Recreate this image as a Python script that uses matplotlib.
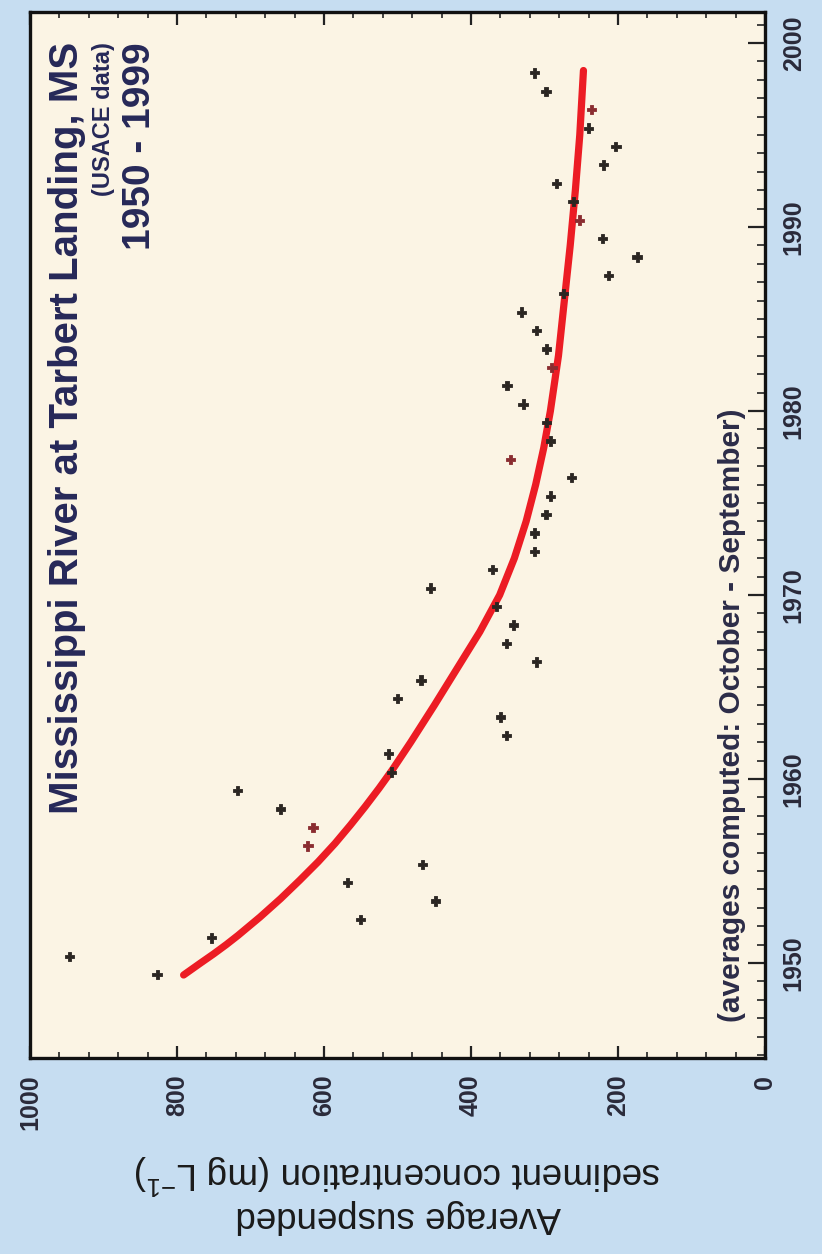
import matplotlib
matplotlib.use("Agg")
import matplotlib.pyplot as plt
from matplotlib.ticker import MultipleLocator
import numpy as np

plt.rcParams['font.family'] = ['Liberation Sans', 'DejaVu Sans']
plt.rcParams['mathtext.fontset'] = 'custom'
plt.rcParams['mathtext.rm'] = 'Liberation Sans'
plt.rcParams['mathtext.default'] = 'regular'

# ---- data ----
water_years = np.arange(1949, 1999)
year_offset = 0.37  # points plotted at mid water year
conc = [827, 946, 753, 550, 448, 568, 466, 622, 615, 659, 718,
        508, 512, 352, 360, 500, 468, 311, 352, 342, 365,
        455, 371, 314, 314, 298, 292, 263, 346, 292, 297,
        329, 351, 290, 297, 311, 331, 274, 213, 174, 221,
        252, 261, 284, 220, 203, 240, 236, 298, 314]
reddish_years = [1956, 1957, 1977, 1982, 1990, 1996]

# trend curve
curve_years = [1949.35, 1950.0, 1950.5, 1951.0, 1951.5, 1952.5, 1953.5, 1954.5,
               1955.5, 1956.5, 1957.5, 1958.5, 1959.5, 1960.5, 1962, 1964, 1966,
               1968, 1970, 1972, 1974, 1976, 1978, 1980, 1983, 1986, 1989, 1992,
               1995, 1998.5]
curve_conc = [791, 768, 750, 733, 717, 687, 659, 633,
              608, 585, 564, 544, 525, 507, 482, 450, 419,
              388, 361, 341, 325, 312, 301, 292, 281, 273, 265, 258,
              252, 247]

conc_ticks = [0, 200, 400, 600, 800, 1000]
year_ticks = [1950, 1960, 1970, 1980, 1990, 2000]

title = "Mississippi River at Tarbert Landing, MS"
subtitle = "(USACE data)"
period = "1950 - 1999"
note = "(averages computed: October - September)"
ylabel = "Average suspended\nsediment concentration (mg L$^{-1}$)"

# ---- figure ----
W, H = 822, 1254
fig = plt.figure(figsize=(W / 100, H / 100), dpi=100)
fig.patch.set_facecolor('#c6ddf1')

def fx(x):
    return x / W

def fy(y):
    return 1 - y / H

ax = fig.add_axes([fx(30), fy(1058), (765 - 30) / W, (1058 - 12) / H])
ax.set_facecolor('#fbf4e4')

# swapped axes: concentration horizontal (reversed), year vertical
ax.plot(curve_conc, curve_years, color='#ec1c24', lw=5.2,
        solid_capstyle='round', solid_joinstyle='round', zorder=2)

colors = ['#8a2c30' if y in reddish_years else '#2b2622' for y in water_years]
ax.scatter(conc, water_years + year_offset, marker='P', s=46, c=colors,
           edgecolors=colors, linewidths=0.6, zorder=3)

ax.set_xlim(1000, 0)
ax.set_ylim(1944.84, 2001.68)

ax.set_xticks(conc_ticks)
ax.set_xticklabels([str(v) for v in conc_ticks])
ax.xaxis.set_minor_locator(MultipleLocator(40))
ax.set_yticks(year_ticks)
ax.set_yticklabels([str(v) for v in year_ticks])
ax.yaxis.set_minor_locator(MultipleLocator(1))
ax.yaxis.tick_right()

ax.tick_params(axis='x', which='both', direction='in', top=True, bottom=True,
               labelbottom=True, labeltop=False, color='#222222')
ax.tick_params(axis='x', which='major', length=9, width=1.6, pad=12,
               labelsize=18, labelrotation=90, labelcolor='#2a2a3a')
ax.tick_params(axis='x', which='minor', length=4.5, width=1.2)
ax.tick_params(axis='y', which='both', direction='in', left=False, right=True,
               labelleft=False, labelright=True, color='#222222')
ax.tick_params(axis='y', which='major', length=12, width=1.6, pad=12,
               labelsize=18, labelrotation=90, labelcolor='#2a2a3a')
ax.tick_params(axis='y', which='minor', length=5.5, width=1.2)
for lab in ax.get_xticklabels() + ax.get_yticklabels():
    lab.set_fontweight('bold')
for lab in ax.get_yticklabels():
    lab.set_va('center')

for sp in ax.spines.values():
    sp.set_linewidth(2.4)
    sp.set_color('#111111')

# ---- texts ----
navy = '#262858'
fig.text(fx(78), fy(42), title, rotation=90, rotation_mode='anchor',
         ha='right', va='baseline', fontsize=29, fontweight='bold', color=navy)
fig.text(fx(110), fy(42), subtitle, rotation=90, rotation_mode='anchor',
         ha='right', va='baseline', fontsize=17, fontweight='bold', color=navy)
fig.text(fx(150), fy(42), period, rotation=90, rotation_mode='anchor',
         ha='right', va='baseline', fontsize=28, fontweight='bold', color=navy)
fig.text(fx(740), fy(1022), note, rotation=90, rotation_mode='anchor',
         ha='left', va='baseline', fontsize=21.5, fontweight='bold', color='#2c2c48')
fig.text(fx(398), fy(1193), ylabel, rotation=180, ha='center', va='center',
         fontsize=26.5, color='#1a1a1a', multialignment='center', linespacing=1.1)

fig.savefig('out.png', dpi=100, facecolor=fig.get_facecolor())
